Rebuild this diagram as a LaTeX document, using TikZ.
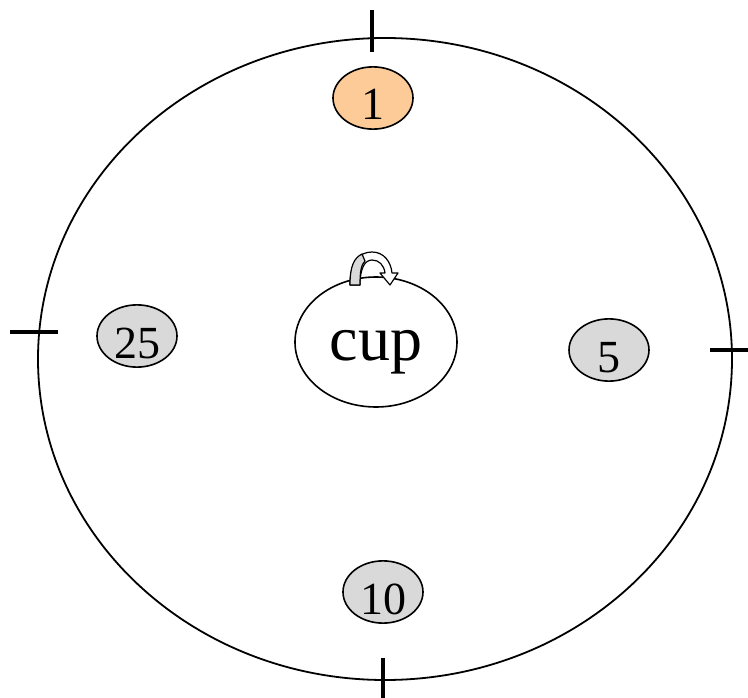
\documentclass[tikz,border=0pt]{standalone}
\usepackage{fontspec}
\setmainfont{Liberation Serif}
\definecolor{CoinOrange}{HTML}{FCCB98}
\definecolor{CoinGrey}{HTML}{D9D9D9}
\usetikzlibrary{shapes.geometric}

\begin{document}
\begin{tikzpicture}[x=1pt, y=-1pt,
    coin/.style={ellipse, draw, line width=1.6pt, fill=CoinGrey, minimum width=80pt,
      minimum height=62pt, inner sep=0pt, text height=44pt, text depth=0pt,
      font=\fontsize{46}{46}\selectfont},
    tickmark/.style={line width=3.6pt}]
  \useasboundingbox (0,0) rectangle (748,698);
  % table edge
  \draw[line width=1.8pt] (385,359) ellipse [x radius=347, y radius=321];
  \draw[tickmark] (372,10) -- (372,52);
  \draw[tickmark] (710,350) -- (748,350);
  \draw[tickmark] (10,332) -- (58,332);
  \draw[tickmark] (383,658) -- (383,698);
  % coins
  \node[coin, fill=CoinOrange] (one) at (373,98) {1};
  \node[coin] (twentyfive) at (137,336) {25};
  \node[coin] (five) at (609,350) {5};
  \node[coin] (ten) at (383,592) {10};
  % cup
  \node[ellipse, draw, line width=1.6pt, minimum width=162pt, minimum height=130pt,
    inner sep=0pt, text height=36pt, text depth=0pt,
    font=\fontsize{64}{64}\selectfont] (cup) at (376,342) {cup};
  % turning arrow
  \filldraw[fill=white, line width=1.2pt, line join=round]
    (350,285) .. controls (350,262) and (359,252) .. (372,252)
    .. controls (384,252) and (391,262) .. (392,273) -- (398,273) -- (390,285)
    -- (380,273) -- (385,273) .. controls (384,265) and (379,260) .. (372,260)
    .. controls (365,260) and (360,268) .. (360,285) -- cycle;
  \filldraw[fill=CoinGrey, line width=1.2pt, line join=round]
    (350,285) .. controls (350,266) and (354,258) .. (362,254)
    -- (365,261) .. controls (361,265) and (360,272) .. (360,285) -- cycle;
\end{tikzpicture}
\end{document}
